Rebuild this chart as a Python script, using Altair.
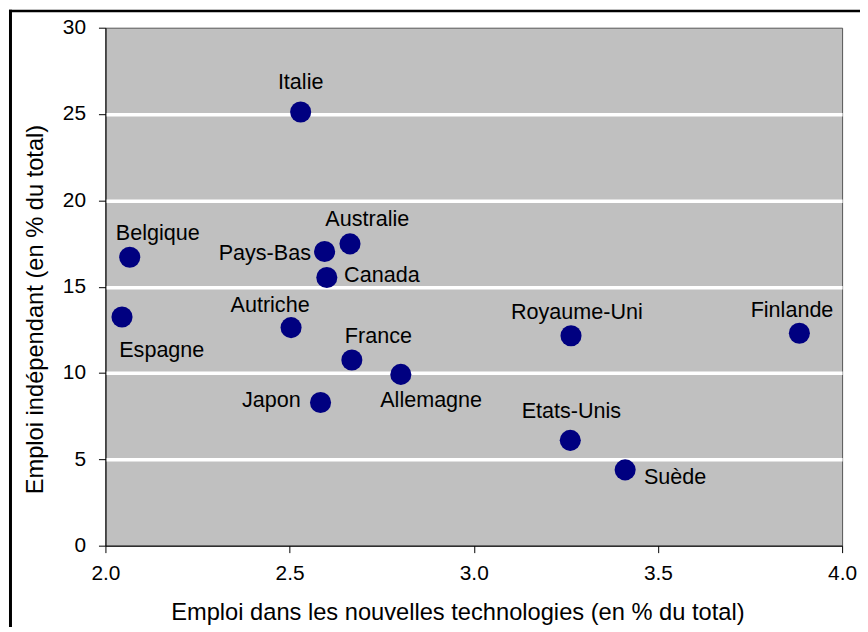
import altair as alt
import pandas as pd

countries = ["Italie", "Belgique", "Espagne", "Pays-Bas", "Australie", "Canada", "Autriche",
             "France", "Allemagne", "Japon", "Royaume-Uni", "Finlande", "Etats-Unis", "Suède"]
tech = [2.530, 2.066, 2.045, 2.595, 2.664, 2.601, 2.504, 2.669, 2.802, 2.584, 3.264, 3.884, 3.262, 3.411]
indep = [25.12, 16.70, 13.24, 17.04, 17.48, 15.53, 12.63, 10.75, 9.92, 8.29, 12.16, 12.30, 6.10, 4.39]

# label anchor positions (data units) and alignment
label_x = [2.530, 2.142, 2.153, 2.558, 2.711, 2.648, 2.447, 2.741, 2.746, 2.530, 3.280, 3.864, 3.265, 3.462]
label_y = [26.83, 18.08, 11.34, 16.93, 18.94, 15.66, 13.93, 12.15, 8.41, 8.41, 13.56, 13.64, 7.77, 4.00]
label_align = ["center", "center", "center", "right", "center", "left", "center",
               "center", "left", "right", "center", "center", "center", "left"]

x_ticks = [2.0, 2.5, 3.0, 3.5, 4.0]
y_ticks = [0, 5, 10, 15, 20, 25, 30]

x_title = "Emploi dans les nouvelles technologies (en % du total)"
y_title = "Emploi indépendant (en % du total)"

df = pd.DataFrame({"pays": countries, "tech": tech, "indep": indep,
                   "lx": label_x, "ly": label_y, "align": label_align})

W, H = 741, 521
FONT = "Liberation Sans"

xscale = alt.Scale(domain=[2, 4], nice=False, zero=False)
yscale = alt.Scale(domain=[0, 30], nice=False)

xaxis = alt.Axis(values=x_ticks, format=".1f", grid=False, tickSize=7, tickColor="black",
                 domainColor="black", labelFontSize=21, labelPadding=10, labelFlush=False,
                 labelColor="black", title=x_title, titleFontSize=23.8, titleFontWeight="normal",
                 titleColor="black", titleX=354, titleY=74, titleAlign="center",
                 titleBaseline="alphabetic")
yaxis = alt.Axis(values=y_ticks, grid=True, gridColor="white", gridWidth=3.5,
                 gridOpacity={"condition": {"test": "datum.value === 0 || datum.value === 30", "value": 0},
                              "value": 1},
                 tickSize=7, tickColor="black", domainColor="black", labelFontSize=21,
                 labelPadding=13, labelColor="black", title=y_title, titleFontSize=23.8,
                 titleFontWeight="normal", titleColor="black", titleX=-63.5, titleY=283,
                 titleAlign="center", titleBaseline="alphabetic", titleAngle=270)

points = alt.Chart(df).mark_circle(size=450, color="#000080", opacity=1).encode(
    x=alt.X("tech:Q", scale=xscale, axis=xaxis),
    y=alt.Y("indep:Q", scale=yscale, axis=yaxis),
)

def labels(al):
    return alt.Chart(df).transform_filter(alt.datum.align == al).mark_text(
        align=al, baseline="middle", fontSize=21.7, font=FONT, color="black"
    ).encode(
        x=alt.X("lx:Q", scale=xscale),
        y=alt.Y("ly:Q", scale=yscale),
        text="pays:N",
    )

frame = pd.DataFrame({"k": [0]})
top_border = alt.Chart(frame).mark_rule(color="black", strokeWidth=2.5).encode(
    x=alt.value(-97), x2=alt.value(W + 60), y=alt.value(-16.8))
left_border = alt.Chart(frame).mark_rule(color="black", strokeWidth=3).encode(
    x=alt.value(-95.5), y=alt.value(-18), y2=alt.value(H + 120))

chart = alt.layer(points, labels("center"), labels("left"), labels("right"),
                  top_border, left_border).properties(
    width=W, height=H,
    autosize=alt.AutoSizeParams(type="none"),
    padding={"left": 98, "top": 18, "right": 18, "bottom": 80},
    background="white",
).configure(font=FONT).configure_view(
    fill="#c0c0c0", stroke="#555555", strokeWidth=1
)

chart.save("out.html", embed_options={"renderer": "svg", "actions": False})
